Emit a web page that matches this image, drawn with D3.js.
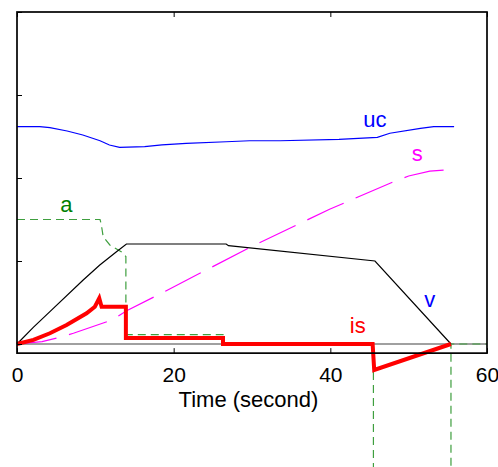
<!DOCTYPE html>
<html>
<head>
<meta charset="utf-8">
<script src="https://cdn.jsdelivr.net/npm/d3@7"></script>
<style>
  html, body { margin: 0; padding: 0; background: #fff; }
  svg { display: block; font-family: "Liberation Sans", Arial, sans-serif; }
</style>
</head>
<body>
<svg id="chart" width="498" height="467"></svg>
<script>
// ---- data (time in seconds, values in normalised plot units) ----
const xTicks = [0, 20, 40, 60];
const yTicks = [0, 1, 2, 3, 4];
const xLabel = "Time (second)";

const ucT = [0, 2.9, 4.2, 6.4, 8.4, 10.6, 11.8, 13.1, 16.3, 18.5, 21.6, 26.7, 29.7, 33.6, 41.1, 46.0, 47.6, 51.5, 53.2, 55.8];
const ucV = [2.618, 2.618, 2.606, 2.566, 2.518, 2.449, 2.398, 2.370, 2.377, 2.398, 2.418, 2.437, 2.449, 2.449, 2.466, 2.490, 2.539, 2.599, 2.618, 2.618];

const sT = [0, 3.2, 5.5, 7.2, 12.1, 14.0, 19.0, 29.7, 39.9, 47.7, 50.0, 52.7, 55.4];
const sV = [0, 0.028, 0.081, 0.129, 0.289, 0.401, 0.639, 1.163, 1.623, 1.940, 2.024, 2.082, 2.100];

const aT = [0, 10.6, 10.75, 11.0, 11.85, 13.3, 13.9, 13.9, 26.3, 26.3, 45.5, 45.5, 55.4, 55.4, 60];
const aV = [1.5, 1.5, 1.446, 1.293, 1.193, 1.112, 1.054, 0.114, 0.114, 0, 0, -2.0, -2.0, 0, 0];

const vT = [0, 2.08, 4.2, 8.45, 10.57, 12.7, 13.97, 26.7, 27.0, 45.7, 55.4];
const vV = [0, 0.20, 0.39, 0.771, 0.952, 1.112, 1.205, 1.205, 1.185, 1.0, 0];

const isT = [0, 2.1, 4.2, 6.33, 8.88, 9.94, 10.5, 10.8, 13.9, 13.9, 26.3, 26.3, 45.4, 45.6, 55.4];
const isV = [0, 0.05, 0.129, 0.229, 0.37, 0.449, 0.551, 0.449, 0.449, 0.072, 0.072, 0, 0, -0.313, 0];

const zeroT = [0, 60];
const zeroV = [0, 0];

const labels = [
  { text: "a",  t: 6.3,  v: 1.59,  color: "#008000" },
  { text: "uc", t: 45.7, v: 2.615, color: "#0000ff" },
  { text: "s",  t: 51.1, v: 2.205, color: "#ff00ff" },
  { text: "v",  t: 52.7, v: 0.45,  color: "#0000ff" },
  { text: "is", t: 43.5, v: 0.13,  color: "#ff0000" }
];

// ---- scales ----
const svg = d3.select("#chart");
const x = d3.scaleLinear().domain([0, 60]).range([17, 487]);
const y = d3.scaleLinear().domain([0, 4]).range([344, 12]);
const yBottom = y(-0.11);

const line = d3.line().x(d => x(d[0])).y(d => y(d[1]));
const zip = (t, v) => t.map((ti, i) => [ti, v[i]]);

// zero reference line
svg.append("path").attr("d", line(zip(zeroT, zeroV)))
  .attr("fill", "none").attr("stroke", "#808080").attr("stroke-width", 1.5);

// a (green dashed, not clipped)
svg.append("path").attr("d", line(zip(aT, aV)))
  .attr("fill", "none").attr("stroke", "#3f9f3f").attr("stroke-width", 1.2)
  .attr("stroke-dasharray", "8,5");

// s (magenta dashed)
svg.append("path").attr("d", line(zip(sT, sV)))
  .attr("fill", "none").attr("stroke", "#ff00ff").attr("stroke-width", 1.2)
  .attr("stroke-dasharray", "40,13");

// uc (blue)
svg.append("path").attr("d", line(zip(ucT, ucV)))
  .attr("fill", "none").attr("stroke", "#0000ff").attr("stroke-width", 1.2);

// v (black)
svg.append("path").attr("d", line(zip(vT, vV)))
  .attr("fill", "none").attr("stroke", "#000").attr("stroke-width", 1.2);

// is (red thick)
svg.append("path").attr("d", line(zip(isT, isV)))
  .attr("fill", "none").attr("stroke", "#ff0000").attr("stroke-width", 4)
  .attr("stroke-linejoin", "miter");

// ---- axes box ----
svg.append("rect")
  .attr("x", x(0)).attr("y", y(4))
  .attr("width", x(60) - x(0)).attr("height", yBottom - y(4))
  .attr("fill", "none").attr("stroke", "#000").attr("stroke-width", 1.7);

// bottom axis (inner ticks + labels)
const xAxisB = d3.axisBottom(x).tickValues(xTicks).tickSize(-5).tickPadding(14).tickFormat(d3.format("d"));
const gB = svg.append("g").attr("transform", `translate(0,${yBottom})`).call(xAxisB);
gB.select(".domain").remove();
gB.selectAll("line").attr("stroke", "#000");
gB.selectAll("text").attr("font-size", 21).attr("fill", "#000")
  .attr("font-family", "Liberation Sans, Arial, sans-serif");

// top axis ticks only
const xAxisT = d3.axisTop(x).tickValues(xTicks).tickSize(-5).tickFormat("");
const gT = svg.append("g").attr("transform", `translate(0,${y(4)})`).call(xAxisT);
gT.select(".domain").remove();
gT.selectAll("line").attr("stroke", "#000");

// left axis ticks only
const yAxisL = d3.axisLeft(y).tickValues(yTicks).tickSize(-5).tickFormat("");
const gL = svg.append("g").attr("transform", `translate(${x(0)},0)`).call(yAxisL);
gL.select(".domain").remove();
gL.selectAll("line").attr("stroke", "#000");

// x label
svg.append("text").attr("x", 248.5).attr("y", 406.5)
  .attr("text-anchor", "middle").attr("font-size", 22).attr("fill", "#000")
  .text(xLabel);

// curve labels
svg.selectAll("text.lbl").data(labels).enter().append("text")
  .attr("class", "lbl")
  .attr("x", d => x(d.t)).attr("y", d => y(d.v))
  .attr("text-anchor", "middle").attr("font-size", 22)
  .attr("fill", d => d.color).text(d => d.text);
</script>
</body>
</html>
